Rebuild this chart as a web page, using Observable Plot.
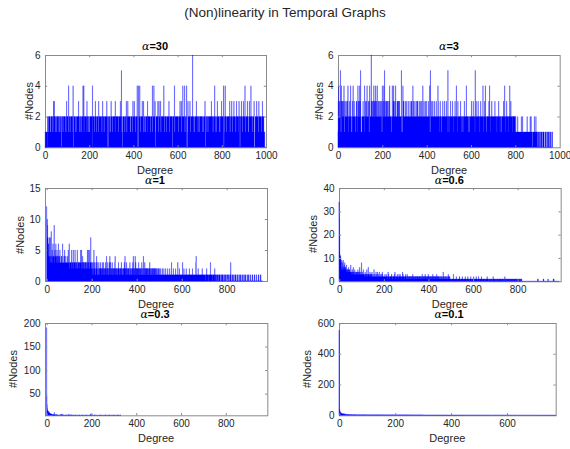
<!DOCTYPE html>
<html><head><meta charset="utf-8">
<script src="https://cdn.jsdelivr.net/npm/d3@7"></script>
<script src="https://cdn.jsdelivr.net/npm/@observablehq/plot@0.6"></script>
<style>
body{margin:0;background:#fff;}
#fig{position:relative;width:570px;height:449px;overflow:hidden;background:#fff;font-family:"Liberation Sans",Arial,Helvetica,sans-serif;color:#262626;}
.t{position:absolute;white-space:nowrap;transform:translate(-50%,-50%);line-height:1;}
.yl{position:absolute;white-space:nowrap;transform:translate(-50%,-50%) rotate(-90deg);line-height:1;font-size:11px;}
.a{font-family:"DejaVu Serif",serif;font-style:italic;font-weight:normal;}
</style></head><body><div id="fig"></div>
<script>
// ---------- text ----------
const mainTitle = "(Non)linearity in Temporal Graphs";
const alphas = ["30", "3", "1", "0.6", "0.3", "0.1"];
const xLabel = "Degree";
const yLabel = "#Nodes";

// ---------- tick labels ----------
const xTicks1 = [0, 200, 400, 600, 800, 1000];
const xTicks2 = [0, 200, 400, 600, 800, 1000];
const xTicks3 = [0, 200, 400, 600, 800];
const xTicks4 = [0, 200, 400, 600, 800];
const xTicks5 = [0, 200, 400, 600, 800];
const xTicks6 = [0, 200, 400, 600];
const yTicks1 = [0, 2, 4, 6];
const yTicks2 = [0, 2, 4, 6];
const yTicks3 = [0, 5, 10, 15];
const yTicks4 = [0, 10, 20, 30, 40];
const yTicks5 = [50, 100, 150, 200];
const yTicks6 = [0, 200, 400, 600];

// ---------- data: #nodes per degree (one digit per degree) + larger values ----------
const base1 = [
"01110111111022221122222111222222112222112222221122",
"22211222222221112222221002222221122222222112222211",
"22222111222221122222222222100012222222211122222222",
"22222221112222211222222221112222222222211122222211",
"11222222222222001222222211222222112222222111222222",
"22222221122222222112222222222222220002222222111222",
"22222112222222222111222222222222112222222222211222",
"00122222222112222222112222222222222111222222211222",
"22222222221122222222000122222222112222222222112222",
"22111222222222112222222222211222222221122222222200",
"01222222222111222222222211222222222222211222222211",
"22222222222221122222222222002222222211122222222222",
"22221122222222222211222222222222211222222200012222",
"22222221122222222222222211122222222222222211222222",
"11222222222222111222222222200122222221122222222222",
"22222222221122222222222111222222222222221112222222",
"22222222000122222222211222222222222221122222222112",
"22222222222221122222222222211222002222222211222222",
"22222221122222222222111222222222222221122222222000",
"1222222222222221122222222222221122222222211110000"].join("");
const peaks1 = [[39,3],[42,3],[98,3],[107,4],[127,4],[152,3],[172,4],[176,4],[190,3],[215,4],[228,3],[243,3],[261,3],[280,3],[299,3],[318,3],[341,3],[346,5],[368,3],[375,3],[398,3],[404,3],[417,4],[423,4],[429,4],[440,3],[446,3],[464,3],[486,4],[493,4],[498,3],[511,3],[516,3],[523,3],[538,4],[561,3],[586,4],[611,3],[617,3],[624,4],[632,4],[641,4],[647,3],[656,3],[668,6],[685,3],[724,3],[753,3],[768,4],[780,3],[799,3],[808,4],[815,4],[836,3],[845,3],[855,3],[867,3],[878,3],[889,3],[898,3],[905,4],[916,3],[925,3],[932,4],[946,3],[958,3],[968,3],[984,3]];

const base2 = [
"13322223322231122323322232221123322223222233232221",
"22322223322111223232222322221122232322211223232222",
"32221111222223222221112223232223222233221132322222",
"22332223232223232232322232322222233222322223232211",
"23223222322223222232322232322222323222222211222223",
"32322232222322222323223223232222222222111222232322",
"22223222223222222322222223222223232222222322222322",
"22232222323222222322222322223222222222322222322222",
"32222222322222211122222322223222222322222223222222",
"22322222122322221122222322222223222222232221222212",
"21222222322222222322221222223222222222122322222222",
"22232222211222222212322222222322222222221112222222",
"22322222223222222212222322222222322222221222322222",
"22222122222232222222112222222223222222122222322222",
"22222222322222222122222223222221222222112222222322",
"22222221222322222222122222222232222222122222222222",
"11211111111211111111111111121111111111111111111111",
"11121111111111111211111111110011111111111112111110",
"01111100011111000111100011111100001111000011110001",
"111100001110000111"].join("");
const peaks2 = [[3,4],[11,5],[15,4],[27,4],[45,4],[57,4],[68,4],[90,4],[98,4],[102,5],[120,4],[131,4],[143,4],[150,6],[162,4],[170,4],[177,4],[200,4],[207,4],[210,5],[233,4],[245,4],[251,4],[260,4],[286,5],[293,4],[338,4],[383,4],[414,4],[417,5],[451,4],[496,5],[534,4],[579,4],[619,5],[654,4],[665,4],[684,4],[752,4],[775,4],[833,2],[871,2],[886,2]];

const base3 = [
"44444444444444433444444344434444444434444444344443",
"44343344443333434333343333343433333433333343333333",
"33323333332333333233233333323333233333223333332333",
"32332323332233323322333233322333323323332223332333",
"22312232122232211223221232211122322122232212221322",
"21322122212322211122123222112322213222122322122212",
"22132212221212211223221122122221322211212221232212",
"12212322121222122112322211122122232212122122213222",
"21212212232212122121122322211222112232212122121221",
"21121221321122122112212211212122122112112211122211",
"11211112111111211111121111111211111111211111111211",
"11111311111112111111111211111111131111112111111111",
"11113111112111111111211111111111112111111111111121",
"11111111111113111111111211111111111111111211111111",
"11111101111211111101111111113111111011111111111201",
"11111100111110011111100011110011110001111000111100",
"01111000111100011130000111100001110000111100001110",
"00001110000111000011100000111000011100000110000111",
"00000110000001110000000111000000110000000111000000",
"1110000000"].join("");
const peaks3 = [[0,12],[1,9],[2,10],[3,8],[4,9],[5,7],[6,7],[7,6],[8,5],[9,6],[12,7],[16,7],[20,8],[24,5],[28,6],[33,9],[37,5],[41,6],[46,5],[52,6],[59,5],[71,6],[80,5],[96,5],[100,6],[111,5],[118,5],[126,5],[136,5],[151,5],[155,5],[160,4],[181,5],[185,5],[190,5],[196,7],[210,5],[222,4],[266,4],[281,4],[304,4],[348,4],[385,4],[393,4],[430,4],[664,4]];

const base4 = [
"00000000005666565666566656565554555545554545454544",
"44444344434443434334343343343433433343343334333433",
"33334333233333233323332333233323332332333233323322",
"23222322232222322232222322322232222322223222232222",
"22222122222322221222223222212222222322221222222322",
"22212222223222221222222322222122222232222122222232",
"12221212221212212221212221221212221212212212221212",
"21221221212221212212212221212212122121221212212212",
"12212212121221212212121221212121221212122121212212",
"11211211212112112121121121211211211211211212112111",
"11111011111121111101111112111110111111121111101111",
"11211110111111121111011111121111101111112111101111",
"11121110111111211110111112111110111111211110111111",
"11011111011112111101111101110111111011102111011110",
"11101110111101110111011111011101111011101102111011",
"11011101111011101110111011110111011101110111101110",
"11101110111011100111000000000000000000000000000000",
"00000000000000000000000000000000000000001110000000",
"00000000000000011100000000000000000011000000000000",
"00000000001111000000000000000000000000"].join("");
const peaks4 = [[0,34],[1,27],[2,20],[3,12],[4,11],[5,10],[6,11],[7,10],[8,9],[9,8],[12,9],[15,8],[18,9],[22,7],[25,8],[29,6],[33,7],[38,5],[42,6],[47,5],[52,7],[58,5],[63,6],[70,5],[77,4],[84,5],[92,6],[100,8],[108,5],[116,4],[124,5],[130,6],[138,4],[147,4],[156,5],[165,4],[172,4],[180,4],[193,4],[205,3],[219,4],[236,3],[250,4],[268,3],[284,4],[305,3],[330,3],[372,3],[385,3],[399,3],[420,3],[437,3],[466,4],[489,3],[512,3],[540,2]];

const peaks5 = [[0,190],[1,45],[2,27],[3,20],[4,16],[5,14],[6,12],[7,13],[8,11],[9,10],[10,12],[11,9],[12,10],[13,8],[14,9],[15,8],[16,7],[17,8],[18,7],[19,6],[20,7],[21,6],[22,7],[23,6],[24,5],[25,6],[26,5],[28,6],[30,5],[32,6],[34,10],[36,5],[38,6],[42,5],[45,6],[50,5],[55,5],[61,6],[67,7],[70,6],[75,5],[82,5],[90,5],[97,6],[104,6],[110,5],[118,5],[130,5],[145,5],[160,5],[176,5],[196,7],[198,6],[215,5],[240,5],[262,5],[280,5],[300,5],[318,5],[330,5]];

const base6 = [
"00000000000876675665556454545444544434443434443434",
"34343343343334334333433343333433333433334333343333",
"33233323333233323332333233323332333233323332333233",
"23232322323223232232322323223232232322323232232322",
"32232232322322322323223223232232232322322322323223",
"22322322232223222322232223222322232223222322232223",
"22122212221222122212221222122212221222122212221222",
"12221212212221221212212221212212221221212212221212",
"21211212112121121211212112121121211212112121121211",
"21121121121121112112112112111211211211211121121121",
"11211121112111211121112111211121112111211121112111",
"11112111121111211112111121111211112111121111211112",
"11111211111211111211111011111211111111011111211111",
"11110111111011111101111101111101111110111110111111",
"01111101101111011011110110111101101111011011110110",
"1011011010110101101001011"].join("");
const peaks6 = [[0,552],[1,40],[2,30],[3,24],[4,20],[5,18],[6,16],[7,15],[8,14],[9,13],[10,12],[11,11],[12,10],[14,11],[16,9],[18,10],[20,8],[23,9],[26,7],[30,8],[34,6],[38,7],[45,6],[55,6]];

// dense per-degree series (step-after points at deg - 0.5)
function buildSeries(baseStr, peaks) {
  const n = Array.from(baseStr || "", c => +c);
  peaks.forEach(([d, v]) => { while (n.length <= d) n.push(0); n[d] = v; });
  const pts = n.map((v, i) => ({x: i - 0.5, n: v}));
  pts.push({x: n.length - 0.5, n: 0});
  return pts;
}

// ---------- layout (pixels) ----------
const layout = [
  {l: 44.5, t: 55, r: 265.5, b: 147.3, xd: [0, 1000], yd: [0, 6], tx: 155, ty: 46.7, ylx: 29},
  {l: 338.3, t: 55, r: 560, b: 147.3, xd: [0, 1000], yd: [0, 6], tx: 449, ty: 46.7, ylx: 319},
  {l: 45, t: 188, r: 267, b: 281, xd: [-7.5, 979], yd: [0, 15], tx: 155, ty: 181.3, ylx: 20},
  {l: 339, t: 187.7, r: 560.7, b: 281, xd: [-1, 993], yd: [0, 40], tx: 449.3, ty: 181, ylx: 312.7},
  {l: 45, t: 322.7, r: 267.3, b: 415, xd: [-7.6, 985.7], yd: [4, 200], tx: 155, ty: 315.3, ylx: 12.7},
  {l: 339, t: 322.7, r: 555.7, b: 415, xd: [-1, 774], yd: [0, 600], tx: 449, ty: 314.5, ylx: 306.7}
];
const panels = [
  {pts: buildSeries(base1, peaks1), xt: xTicks1, yt: yTicks1},
  {pts: buildSeries(base2, peaks2), xt: xTicks2, yt: yTicks2},
  {pts: buildSeries(base3, peaks3), xt: xTicks3, yt: yTicks3},
  {pts: buildSeries(base4, peaks4), xt: xTicks4, yt: yTicks4},
  {pts: buildSeries("", peaks5), xt: xTicks5, yt: yTicks5},
  {pts: buildSeries(base6, peaks6), xt: xTicks6, yt: yTicks6}
];

const fig = document.getElementById("fig");
function addText(cls, html, x, y, extra) {
  const d = document.createElement("div");
  d.className = cls; d.innerHTML = html;
  d.style.left = x + "px"; d.style.top = y + "px";
  if (extra) Object.assign(d.style, extra);
  fig.appendChild(d);
}
addText("t", mainTitle, 285, 12.5, {fontSize: "13.5px"});

const boxColor = "#8a8a8a";
panels.forEach((p, i) => {
  const B = layout[i];
  const mL = 42, mR = 10, mT = 6, mB = 22;
  const w = B.r - B.l, h = B.b - B.t;
  const [x0, x1] = B.xd, [y0, y1] = B.yd;
  const tickLen = 2.2;
  const dyT = tickLen / h * (y1 - y0), dxT = tickLen / w * (x1 - x0);
  const svg = Plot.plot({
    width: w + mL + mR, height: h + mT + mB,
    marginLeft: mL, marginRight: mR, marginTop: mT, marginBottom: mB,
    x: {domain: B.xd},
    y: {domain: B.yd},
    style: {fontFamily: '"Liberation Sans", Arial, Helvetica, sans-serif', fontSize: "10px", color: "#262626", background: "transparent", overflow: "visible"},
    marks: [
      Plot.frame({stroke: boxColor}),
      Plot.areaY(p.pts, {x: d => Math.min(Math.max(d.x, x0), x1), y1: y0, y2: d => Math.max(d.n, y0), curve: "step-after", fill: "#0000ff", stroke: "#0000ff", strokeWidth: 0.3}),
      Plot.ruleX(p.xt.filter(v => v > x0 && v < x1), {x: d => d, y1: y0, y2: y0 + dyT, stroke: boxColor}),
      Plot.ruleX(p.xt.filter(v => v > x0 && v < x1), {x: d => d, y1: y1, y2: y1 - dyT, stroke: boxColor}),
      Plot.ruleY(p.yt.filter(v => v > y0 && v < y1), {y: d => d, x1: x0, x2: x0 + dxT, stroke: boxColor}),
      Plot.ruleY(p.yt.filter(v => v > y0 && v < y1), {y: d => d, x1: x1, x2: x1 - dxT, stroke: boxColor}),
      Plot.axisX({ticks: p.xt, tickSize: 0, tickPadding: 4, label: null, tickFormat: d => String(d)}),
      Plot.axisY({ticks: p.yt, tickSize: 0, tickPadding: 5, label: null, tickFormat: d => String(d)})
    ]
  });
  svg.style.position = "absolute";
  svg.style.left = (B.l - mL) + "px";
  svg.style.top = (B.t - mT) + "px";
  svg.style.maxWidth = "none";
  fig.appendChild(svg);
  addText("t", '<span class="a">α</span>=' + alphas[i], B.tx, B.ty, {fontSize: "11px", fontWeight: "bold", color: "#000", lineHeight: "0.85"});
  addText("t", xLabel, (B.l + B.r) / 2, B.b + 23.7, {fontSize: "11px", lineHeight: "0.85"});
  addText("yl", yLabel, B.ylx, (B.t + B.b) / 2);
});
</script></body></html>
